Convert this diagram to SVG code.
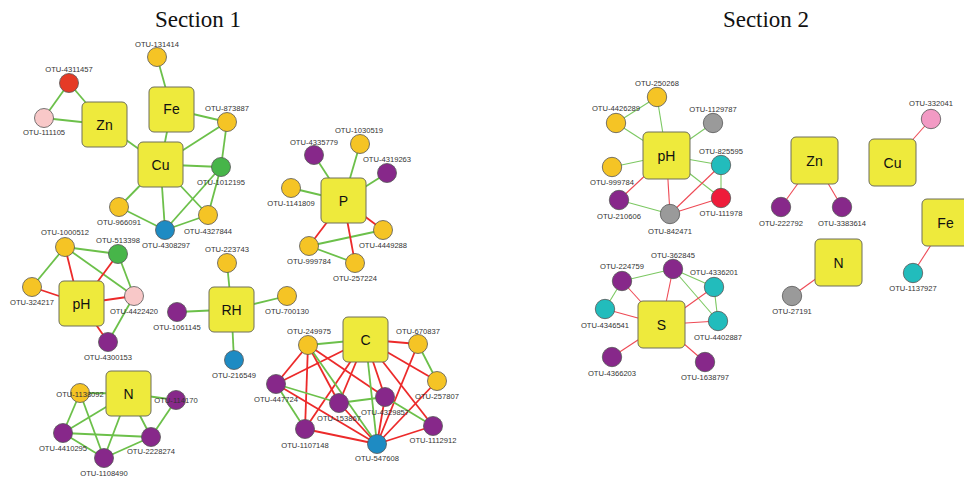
<svg xmlns="http://www.w3.org/2000/svg" width="964" height="479" viewBox="0 0 964 479">
<style>
.bg{fill:#ffffff}
.title{font-family:"Liberation Serif","Times New Roman",serif;font-size:23px;fill:#111;text-anchor:middle}
.g{stroke:#6CC04A;stroke-width:1.8;fill:none}
.r{stroke:#EC2A2A;stroke-width:1.8;fill:none}
.g2{stroke:#7CC862;stroke-width:1.1;fill:none}
.r2{stroke:#EE4A55;stroke-width:1.1;fill:none}
.box{fill:#EEEA3C;stroke:#6E6E5A;stroke-width:1}
.bt{font-family:"Liberation Sans",Arial,sans-serif;font-size:14px;fill:#111;text-anchor:middle}
.n{stroke:#555;stroke-width:0.8}
.lb{font-family:"Liberation Sans",Arial,sans-serif;font-size:7.6px;fill:#333;text-anchor:middle}
.o{fill:#F5C425}.p{fill:#87288A}.b{fill:#1E8BC3}.gn{fill:#47B549}.rd{fill:#E53A26}.pk{fill:#F8C8C8}
.tl{fill:#22BCBC}.gy{fill:#9A9A9A}.pk2{fill:#F29AC4}.rd2{fill:#EE1C3A}
</style>
<rect class="bg" x="0" y="0" width="964" height="479"/>
<text class="title" x="198" y="27">Section 1</text>
<text class="title" x="766" y="27">Section 2</text>
<g id="connectors">
<!-- Section 1 Zn/Fe/Cu -->
<line class="g" x1="157" y1="57" x2="171.5" y2="109"/>
<line class="g" x1="69" y1="83" x2="44" y2="118"/>
<line class="g" x1="69" y1="83" x2="104.5" y2="124.5"/>
<line class="g" x1="44" y1="118" x2="104.5" y2="124.5"/>
<line class="g" x1="104.5" y1="124.5" x2="160.5" y2="164.5"/>
<line class="g" x1="171.5" y1="109" x2="160.5" y2="164.5"/>
<line class="g" x1="171.5" y1="109" x2="227" y2="122"/>
<line class="g" x1="160.5" y1="164.5" x2="227" y2="122"/>
<line class="g" x1="227" y1="122" x2="221" y2="167"/>
<line class="g" x1="160.5" y1="164.5" x2="221" y2="167"/>
<line class="g" x1="160.5" y1="164.5" x2="119" y2="207"/>
<line class="g" x1="160.5" y1="164.5" x2="165" y2="230"/>
<line class="g" x1="160.5" y1="164.5" x2="208" y2="215"/>
<line class="g" x1="119" y1="207" x2="165" y2="230"/>
<line class="g" x1="165" y1="230" x2="221" y2="167"/>
<line class="g" x1="165" y1="230" x2="208" y2="215"/>
<line class="g" x1="208" y1="215" x2="221" y2="167"/>
<!-- P -->
<line class="g" x1="314" y1="155" x2="343.5" y2="200.5"/>
<line class="g" x1="360" y1="144" x2="343.5" y2="200.5"/>
<line class="g" x1="387" y1="173" x2="343.5" y2="200.5"/>
<line class="g" x1="291" y1="188" x2="343.5" y2="200.5"/>
<line class="g" x1="309" y1="246" x2="383" y2="230"/>
<line class="g" x1="309" y1="246" x2="355" y2="263"/>
<line class="r" x1="343.5" y1="200.5" x2="383" y2="230"/>
<line class="r" x1="343.5" y1="200.5" x2="309" y2="246"/>
<line class="r" x1="343.5" y1="200.5" x2="355" y2="263"/>
<!-- pH -->
<line class="g" x1="65" y1="247" x2="118" y2="254"/>
<line class="g" x1="65" y1="247" x2="32" y2="287"/>
<line class="g" x1="65" y1="247" x2="134" y2="296"/>
<line class="g" x1="118" y1="254" x2="134" y2="296"/>
<line class="g" x1="134" y1="296" x2="108" y2="342"/>
<line class="r" x1="65" y1="247" x2="78" y2="300"/>
<line class="r" x1="118" y1="254" x2="81.5" y2="303.5"/>
<line class="r" x1="32" y1="287" x2="81.5" y2="303.5"/>
<line class="r" x1="81.5" y1="303.5" x2="134" y2="296"/>
<line class="r" x1="81.5" y1="303.5" x2="108" y2="342"/>
<!-- RH -->
<line class="g" x1="227" y1="263" x2="231.5" y2="309.5"/>
<line class="g" x1="177" y1="312" x2="231.5" y2="309.5"/>
<line class="g" x1="231.5" y1="309.5" x2="287" y2="296"/>
<line class="g" x1="231.5" y1="309.5" x2="234" y2="360"/>
<!-- N -->
<line class="g" x1="80" y1="393" x2="128.5" y2="393.5"/>
<line class="g" x1="80" y1="393" x2="63" y2="433"/>
<line class="g" x1="80" y1="393" x2="104" y2="458"/>
<line class="g" x1="128.5" y1="393.5" x2="63" y2="433"/>
<line class="g" x1="128.5" y1="393.5" x2="104" y2="458"/>
<line class="g" x1="128.5" y1="393.5" x2="176" y2="400"/>
<line class="g" x1="128.5" y1="393.5" x2="151" y2="437"/>
<line class="g" x1="176" y1="400" x2="151" y2="437"/>
<line class="g" x1="63" y1="433" x2="151" y2="437"/>
<line class="g" x1="63" y1="433" x2="104" y2="458"/>
<line class="g" x1="104" y1="458" x2="151" y2="437"/>
<!-- C -->
<line class="r" x1="308" y1="345" x2="276" y2="384"/>
<line class="r" x1="308" y1="345" x2="339" y2="403"/>
<line class="r" x1="308" y1="345" x2="305" y2="429"/>
<line class="r" x1="308" y1="345" x2="385" y2="397"/>
<line class="r" x1="365.5" y1="339.5" x2="276" y2="384"/>
<line class="r" x1="365.5" y1="339.5" x2="305" y2="429"/>
<line class="r" x1="365.5" y1="339.5" x2="339" y2="403"/>
<line class="r" x1="365.5" y1="339.5" x2="385" y2="397"/>
<line class="r" x1="365.5" y1="339.5" x2="433" y2="426"/>
<line class="r" x1="365.5" y1="339.5" x2="418" y2="344"/>
<line class="r" x1="365.5" y1="339.5" x2="437" y2="381"/>
<line class="r" x1="418" y1="344" x2="377" y2="444"/>
<line class="r" x1="437" y1="381" x2="377" y2="444"/>
<line class="r" x1="276" y1="384" x2="377" y2="444"/>
<line class="r" x1="305" y1="429" x2="377" y2="444"/>
<line class="r" x1="377" y1="444" x2="433" y2="426"/>
<line class="r" x1="339" y1="403" x2="377" y2="444"/>
<line class="r" x1="385" y1="397" x2="377" y2="444"/>
<line class="g" x1="308" y1="345" x2="365.5" y2="339.5"/>
<line class="g" x1="418" y1="344" x2="437" y2="381"/>
<line class="g" x1="308" y1="345" x2="377" y2="444"/>
<line class="g" x1="365.5" y1="339.5" x2="377" y2="444"/>
<line class="g" x1="276" y1="384" x2="339" y2="403"/>
<line class="g" x1="276" y1="384" x2="305" y2="429"/>
<line class="g" x1="339" y1="403" x2="385" y2="397"/>
<line class="g" x1="385" y1="397" x2="433" y2="426"/>
<!-- Section 2 pH -->
<line class="g2" x1="657" y1="97" x2="616" y2="123"/>
<line class="g2" x1="657" y1="97" x2="666.5" y2="155.5"/>
<line class="g2" x1="616" y1="123" x2="666.5" y2="155.5"/>
<line class="g2" x1="713" y1="123" x2="666.5" y2="155.5"/>
<line class="g2" x1="612" y1="167" x2="666.5" y2="155.5"/>
<line class="g2" x1="666.5" y1="155.5" x2="721" y2="165"/>
<line class="g2" x1="666.5" y1="155.5" x2="721" y2="198"/>
<line class="g2" x1="721" y1="165" x2="721" y2="198"/>
<line class="g2" x1="619" y1="200" x2="670" y2="214"/>
<line class="r2" x1="666.5" y1="155.5" x2="619" y2="200"/>
<line class="r2" x1="666.5" y1="155.5" x2="670" y2="214"/>
<line class="r2" x1="721" y1="165" x2="670" y2="214"/>
<line class="r2" x1="721" y1="198" x2="670" y2="214"/>
<!-- Section 2 others -->
<line class="r2" x1="892.5" y1="162.5" x2="931" y2="119"/>
<line class="r2" x1="814.5" y1="160.5" x2="781" y2="207"/>
<line class="r2" x1="814.5" y1="160.5" x2="842" y2="207"/>
<line class="r2" x1="838.5" y1="262.5" x2="792" y2="296"/>
<line class="r2" x1="945.5" y1="222.5" x2="913" y2="273"/>
<!-- S -->
<line class="g2" x1="622" y1="281" x2="673" y2="269"/>
<line class="g2" x1="622" y1="281" x2="605" y2="309"/>
<line class="g2" x1="673" y1="269" x2="714" y2="287"/>
<line class="g2" x1="673" y1="269" x2="718" y2="321"/>
<line class="g2" x1="714" y1="287" x2="718" y2="321"/>
<line class="r2" x1="622" y1="281" x2="661.5" y2="324.5"/>
<line class="r2" x1="605" y1="309" x2="661.5" y2="324.5"/>
<line class="r2" x1="673" y1="269" x2="661.5" y2="324.5"/>
<line class="r2" x1="714" y1="287" x2="661.5" y2="324.5"/>
<line class="r2" x1="661.5" y1="324.5" x2="718" y2="321"/>
<line class="r2" x1="661.5" y1="324.5" x2="612" y2="357"/>
<line class="r2" x1="661.5" y1="324.5" x2="705" y2="362"/>
</g>
<!-- Section 1 boxes -->
<g id="s1-Zn"><rect class="box" x="82" y="102" width="45" height="45" rx="5"/><text class="bt" x="104.5" y="129.5">Zn</text></g>
<g id="s1-Fe"><rect class="box" x="149" y="87" width="45" height="45" rx="5"/><text class="bt" x="171.5" y="114">Fe</text></g>
<g id="s1-Cu"><rect class="box" x="138" y="142" width="45" height="45" rx="5"/><text class="bt" x="160.5" y="169.5">Cu</text></g>
<g id="s1-P"><rect class="box" x="321" y="178" width="45" height="45" rx="5"/><text class="bt" x="343.5" y="205.5">P</text></g>
<g id="s1-pH"><rect class="box" x="59" y="281" width="45" height="45" rx="5"/><text class="bt" x="81.5" y="308.5">pH</text></g>
<g id="s1-RH"><rect class="box" x="209" y="287" width="45" height="45" rx="5"/><text class="bt" x="231.5" y="314.5">RH</text></g>
<g id="s1-N"><rect class="box" x="106" y="371" width="45" height="45" rx="5"/><text class="bt" x="128.5" y="398.5">N</text></g>
<g id="s1-C"><rect class="box" x="343" y="317" width="45" height="45" rx="5"/><text class="bt" x="365.5" y="344.5">C</text></g>
<!-- Section 1 OTUs -->
<g id="s1-131414"><circle class="n o" cx="157" cy="57" r="9.5"/><text class="lb" x="157" y="47">OTU-131414</text></g>
<g id="s1-4311457"><circle class="n rd" cx="69" cy="83" r="9.5"/><text class="lb" x="69" y="72">OTU-4311457</text></g>
<g id="s1-111105"><circle class="n pk" cx="44" cy="118" r="9.5"/><text class="lb" x="44" y="135">OTU-111105</text></g>
<g id="s1-873887"><circle class="n o" cx="227" cy="122" r="9.5"/><text class="lb" x="227" y="111">OTU-873887</text></g>
<g id="s1-1012195"><circle class="n gn" cx="221" cy="167" r="9.5"/><text class="lb" x="221" y="185">OTU-1012195</text></g>
<g id="s1-966091"><circle class="n o" cx="119" cy="207" r="9.5"/><text class="lb" x="119" y="225">OTU-966091</text></g>
<g id="s1-4308297"><circle class="n b" cx="165" cy="230" r="9.5"/><text class="lb" x="166" y="248">OTU-4308297</text></g>
<g id="s1-4327844"><circle class="n o" cx="208" cy="215" r="9.5"/><text class="lb" x="208" y="234">OTU-4327844</text></g>
<g id="s1-4335779"><circle class="n p" cx="314" cy="155" r="9.5"/><text class="lb" x="314" y="145">OTU-4335779</text></g>
<g id="s1-1030519"><circle class="n o" cx="360" cy="144" r="9.5"/><text class="lb" x="359" y="133">OTU-1030519</text></g>
<g id="s1-4319263"><circle class="n p" cx="387" cy="173" r="9.5"/><text class="lb" x="387" y="162">OTU-4319263</text></g>
<g id="s1-1141809"><circle class="n o" cx="291" cy="188" r="9.5"/><text class="lb" x="291" y="206">OTU-1141809</text></g>
<g id="s1-4449288"><circle class="n o" cx="383" cy="230" r="9.5"/><text class="lb" x="383" y="248">OTU-4449288</text></g>
<g id="s1-999784"><circle class="n o" cx="309" cy="246" r="9.5"/><text class="lb" x="309" y="264">OTU-999784</text></g>
<g id="s1-257224"><circle class="n o" cx="355" cy="263" r="9.5"/><text class="lb" x="355" y="281">OTU-257224</text></g>
<g id="s1-1000512"><circle class="n o" cx="65" cy="247" r="9.5"/><text class="lb" x="65" y="235">OTU-1000512</text></g>
<g id="s1-513398"><circle class="n gn" cx="118" cy="254" r="9.5"/><text class="lb" x="118" y="243">OTU-513398</text></g>
<g id="s1-324217"><circle class="n o" cx="32" cy="287" r="9.5"/><text class="lb" x="32" y="305">OTU-324217</text></g>
<g id="s1-4422420"><circle class="n pk" cx="134" cy="296" r="9.5"/><text class="lb" x="134" y="314">OTU-4422420</text></g>
<g id="s1-4300153"><circle class="n p" cx="108" cy="342" r="9.5"/><text class="lb" x="108" y="360">OTU-4300153</text></g>
<g id="s1-223743"><circle class="n o" cx="227" cy="263" r="9.5"/><text class="lb" x="227" y="252">OTU-223743</text></g>
<g id="s1-1061145"><circle class="n p" cx="177" cy="312" r="9.5"/><text class="lb" x="177" y="330">OTU-1061145</text></g>
<g id="s1-700130"><circle class="n o" cx="287" cy="296" r="9.5"/><text class="lb" x="287" y="314">OTU-700130</text></g>
<g id="s1-216549"><circle class="n b" cx="234" cy="360" r="9.5"/><text class="lb" x="234" y="378">OTU-216549</text></g>
<g id="s1-1138092"><circle class="n o" cx="80" cy="393" r="9.5"/><text class="lb" x="80" y="397">OTU-1138092</text></g>
<g id="s1-114170"><circle class="n p" cx="176" cy="400" r="9.5"/><text class="lb" x="176" y="403">OTU-114170</text></g>
<g id="s1-4410295"><circle class="n p" cx="63" cy="433" r="9.5"/><text class="lb" x="63" y="451">OTU-4410295</text></g>
<g id="s1-2228274"><circle class="n p" cx="151" cy="437" r="9.5"/><text class="lb" x="151" y="454">OTU-2228274</text></g>
<g id="s1-1108490"><circle class="n p" cx="104" cy="458" r="9.5"/><text class="lb" x="104" y="476">OTU-1108490</text></g>
<g id="s1-249975"><circle class="n o" cx="308" cy="345" r="9.5"/><text class="lb" x="309" y="334">OTU-249975</text></g>
<g id="s1-670837"><circle class="n o" cx="418" cy="344" r="9.5"/><text class="lb" x="418" y="334">OTU-670837</text></g>
<g id="s1-257807"><circle class="n o" cx="437" cy="381" r="9.5"/><text class="lb" x="437" y="399">OTU-257807</text></g>
<g id="s1-447724"><circle class="n p" cx="276" cy="384" r="9.5"/><text class="lb" x="276" y="402">OTU-447724</text></g>
<g id="s1-153867"><circle class="n p" cx="339" cy="403" r="9.5"/><text class="lb" x="339" y="421">OTU-153867</text></g>
<g id="s1-4329857"><circle class="n p" cx="385" cy="397" r="9.5"/><text class="lb" x="385" y="415">OTU-4329857</text></g>
<g id="s1-1107148"><circle class="n p" cx="305" cy="429" r="9.5"/><text class="lb" x="305" y="448">OTU-1107148</text></g>
<g id="s1-547608"><circle class="n b" cx="377" cy="444" r="9.5"/><text class="lb" x="377" y="461">OTU-547608</text></g>
<g id="s1-1112912"><circle class="n p" cx="433" cy="426" r="9.5"/><text class="lb" x="433" y="443">OTU-1112912</text></g>
<!-- Section 2 boxes -->
<g id="s2-pH"><rect class="box" x="643" y="132" width="47" height="47" rx="5"/><text class="bt" x="666.5" y="161">pH</text></g>
<g id="s2-Zn"><rect class="box" x="791" y="137" width="47" height="47" rx="5"/><text class="bt" x="814.5" y="166">Zn</text></g>
<g id="s2-Cu"><rect class="box" x="869" y="139" width="47" height="47" rx="5"/><text class="bt" x="892.5" y="168">Cu</text></g>
<g id="s2-Fe"><rect class="box" x="922" y="199" width="47" height="47" rx="5"/><text class="bt" x="945.5" y="228">Fe</text></g>
<g id="s2-N"><rect class="box" x="815" y="239" width="47" height="47" rx="5"/><text class="bt" x="838.5" y="268">N</text></g>
<g id="s2-S"><rect class="box" x="638" y="301" width="47" height="47" rx="5"/><text class="bt" x="661.5" y="330">S</text></g>
<!-- Section 2 OTUs -->
<g id="s2-250268"><circle class="n o" cx="657" cy="97" r="9.7"/><text class="lb" x="657" y="86">OTU-250268</text></g>
<g id="s2-4426289"><circle class="n o" cx="616" cy="123" r="9.7"/><text class="lb" x="616" y="111">OTU-4426289</text></g>
<g id="s2-1129787"><circle class="n gy" cx="713" cy="123" r="9.7"/><text class="lb" x="713" y="112">OTU-1129787</text></g>
<g id="s2-825595"><circle class="n tl" cx="721" cy="165" r="9.7"/><text class="lb" x="721" y="154">OTU-825595</text></g>
<g id="s2-999784"><circle class="n o" cx="612" cy="167" r="9.7"/><text class="lb" x="612" y="185">OTU-999784</text></g>
<g id="s2-111978"><circle class="n rd2" cx="721" cy="198" r="9.7"/><text class="lb" x="721" y="216">OTU-111978</text></g>
<g id="s2-210606"><circle class="n p" cx="619" cy="200" r="9.7"/><text class="lb" x="619" y="219">OTU-210606</text></g>
<g id="s2-842471"><circle class="n gy" cx="670" cy="214" r="9.7"/><text class="lb" x="670" y="234">OTU-842471</text></g>
<g id="s2-332041"><circle class="n pk2" cx="931" cy="119" r="9.7"/><text class="lb" x="931" y="106">OTU-332041</text></g>
<g id="s2-222792"><circle class="n p" cx="781" cy="207" r="9.7"/><text class="lb" x="781" y="226">OTU-222792</text></g>
<g id="s2-3383614"><circle class="n p" cx="842" cy="207" r="9.7"/><text class="lb" x="842" y="226">OTU-3383614</text></g>
<g id="s2-27191"><circle class="n gy" cx="792" cy="296" r="9.7"/><text class="lb" x="792" y="314">OTU-27191</text></g>
<g id="s2-1137927"><circle class="n tl" cx="913" cy="273" r="9.7"/><text class="lb" x="913" y="291">OTU-1137927</text></g>
<g id="s2-362845"><circle class="n p" cx="673" cy="269" r="9.7"/><text class="lb" x="673" y="258">OTU-362845</text></g>
<g id="s2-224759"><circle class="n p" cx="622" cy="281" r="9.7"/><text class="lb" x="622" y="269">OTU-224759</text></g>
<g id="s2-4336201"><circle class="n tl" cx="714" cy="287" r="9.7"/><text class="lb" x="714" y="275">OTU-4336201</text></g>
<g id="s2-4346541"><circle class="n tl" cx="605" cy="309" r="9.7"/><text class="lb" x="605" y="328">OTU-4346541</text></g>
<g id="s2-4402887"><circle class="n tl" cx="718" cy="321" r="9.7"/><text class="lb" x="718" y="340">OTU-4402887</text></g>
<g id="s2-4366203"><circle class="n p" cx="612" cy="357" r="9.7"/><text class="lb" x="612" y="376">OTU-4366203</text></g>
<g id="s2-1638797"><circle class="n p" cx="705" cy="362" r="9.7"/><text class="lb" x="705" y="380">OTU-1638797</text></g>
</svg>
